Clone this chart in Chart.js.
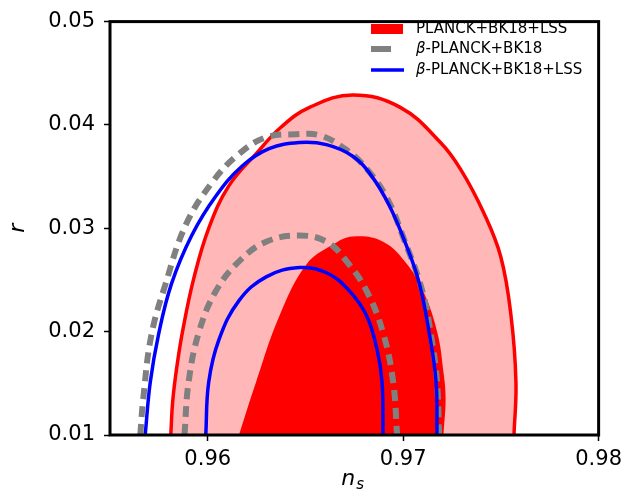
<!DOCTYPE html>
<html lang="en">
<head>
    <meta charset="UTF-8">
    <title>r vs n_s contours</title>
    <script src="https://cdn.jsdelivr.net/npm/chart.js@4.4.0/dist/chart.umd.min.js"></script>
    <style>
        body { margin: 0; background: #fff; }
    </style>
</head>
<body>
    <canvas id="myChart" width="628" height="502"></canvas>
    <script>
        // tick values
        var xTicks = [0.96, 0.97, 0.98];
        var yTicks = [0.01, 0.02, 0.03, 0.04, 0.05];

        var legendLabels = ['PLANCK+BK18+LSS', 'β-PLANCK+BK18', 'β-PLANCK+BK18+LSS'];

        // PLANCK+BK18+LSS, 95% contour
        var redOuterX = [0.95811, 0.95821, 0.95842, 0.95872, 0.95928, 0.96005, 0.96108, 0.96247, 0.96376, 0.96521, 0.96742, 0.96985, 0.97191, 0.97294, 0.97412, 0.97500, 0.97552, 0.97577, 0.97567];
        var redOuterY = [0.0100, 0.0133, 0.0166, 0.0201, 0.0251, 0.0300, 0.0341, 0.0372, 0.0398, 0.0417, 0.0429, 0.0417, 0.0383, 0.0357, 0.0315, 0.0272, 0.0215, 0.0151, 0.0100];
        // PLANCK+BK18+LSS, 68% contour
        var redInnerX = [0.96160, 0.96247, 0.96366, 0.96505, 0.96639, 0.96742, 0.96897, 0.97021, 0.97103, 0.97175, 0.97206, 0.97217, 0.97206];
        var redInnerY = [0.0100, 0.0151, 0.0215, 0.0265, 0.0284, 0.0292, 0.0287, 0.0265, 0.0239, 0.0199, 0.0161, 0.0135, 0.0100];

        // beta-PLANCK+BK18
        var grayOuterX = [0.95655, 0.95670, 0.95711, 0.95784, 0.95887, 0.96021, 0.96160, 0.96299, 0.96454, 0.96572, 0.96709, 0.96816, 0.96918, 0.97005, 0.97097, 0.97148, 0.97173, 0.97184];
        var grayOuterY = [0.0100, 0.0135, 0.0196, 0.0246, 0.0303, 0.0344, 0.0372, 0.0388, 0.0391, 0.0390, 0.0376, 0.0357, 0.0329, 0.0289, 0.0240, 0.0190, 0.0152, 0.0100];
        var grayInnerX = [0.95881, 0.95902, 0.95954, 0.96041, 0.96160, 0.96299, 0.96469, 0.96608, 0.96711, 0.96814, 0.96897, 0.96949, 0.96969];
        var grayInnerY = [0.0100, 0.0151, 0.0199, 0.0239, 0.0268, 0.0287, 0.0293, 0.0287, 0.0268, 0.0239, 0.0199, 0.0151, 0.0100];

        // beta-PLANCK+BK18+LSS
        var blueOuterX = [0.95680, 0.95706, 0.95747, 0.95814, 0.95918, 0.96041, 0.96175, 0.96314, 0.96469, 0.96607, 0.96740, 0.96837, 0.96929, 0.97015, 0.97082, 0.97133, 0.97168, 0.97173];
        var blueOuterY = [0.0100, 0.0151, 0.0196, 0.0246, 0.0293, 0.0331, 0.0360, 0.0377, 0.0383, 0.0381, 0.0370, 0.0351, 0.0322, 0.0284, 0.0247, 0.0199, 0.0152, 0.0100];
        var blueInnerX = [0.95990, 0.96005, 0.96057, 0.96160, 0.96299, 0.96469, 0.96608, 0.96727, 0.96814, 0.96866, 0.96892, 0.96897];
        var blueInnerY = [0.0100, 0.0151, 0.0192, 0.0230, 0.0253, 0.0262, 0.0257, 0.0239, 0.0215, 0.0183, 0.0151, 0.0100];

        var FONT = '"DejaVu Sans", sans-serif';

        function pts(xs, ys) {
            return xs.map(function (x, i) { return { x: x, y: ys[i] }; });
        }

        function drawRich(ctx, text, x, y, size) {
            // leading beta in italics, like mathtext
            var parts = text.charAt(0) === 'β' ? [['β', true], [text.slice(1), false]] : [[text, false]];
            parts.forEach(function (p) {
                ctx.font = (p[1] ? 'italic ' : '') + size + 'px ' + FONT;
                ctx.fillText(p[0], x, y);
                x += ctx.measureText(p[0]).width;
            });
        }

        var framePlugin = {
            id: 'frame',
            afterDraw: function (chart) {
                var ctx = chart.ctx, a = chart.chartArea;
                ctx.save();
                ctx.strokeStyle = '#000';
                ctx.lineWidth = 3;
                ctx.strokeRect(a.left, a.top, a.right - a.left, a.bottom - a.top);

                // legend
                var lx = 371, rows = [29, 49, 70];
                ctx.fillStyle = 'rgb(255,0,0)';
                ctx.fillRect(lx, rows[0] - 5, 32, 10);
                ctx.strokeStyle = 'rgb(128,128,128)';
                ctx.lineWidth = 6;
                ctx.beginPath(); ctx.moveTo(lx, rows[1]); ctx.lineTo(lx + 20, rows[1]); ctx.stroke();
                ctx.strokeStyle = 'rgb(0,0,255)';
                ctx.lineWidth = 3.5;
                ctx.beginPath(); ctx.moveTo(lx, rows[2]); ctx.lineTo(lx + 33, rows[2]); ctx.stroke();
                ctx.fillStyle = '#000';
                ctx.textBaseline = 'middle';
                ctx.textAlign = 'left';
                legendLabels.forEach(function (t, i) { drawRich(ctx, t, 416, rows[i], 15); });

                // x axis title n_s
                ctx.textBaseline = 'alphabetic';
                ctx.font = 'italic 22px ' + FONT;
                var cx = (a.left + a.right) / 2;
                var wn = ctx.measureText('n').width;
                ctx.fillText('n', cx - 13, 485);
                ctx.font = 'italic 15px ' + FONT;
                ctx.fillText('s', cx - 13 + wn + 1, 489);
                ctx.restore();
            }
        };

        var ctx = document.getElementById('myChart').getContext('2d');
        var myChart = new Chart(ctx, {
            type: 'line',
            data: {
                datasets: [
                    { label: legendLabels[0], data: pts(redOuterX, redOuterY), borderColor: 'rgb(255,0,0)', borderWidth: 3.5, backgroundColor: 'rgb(255,183,183)', fill: 'shape', order: 6 },
                    { label: legendLabels[0], data: pts(redInnerX, redInnerY), borderColor: 'rgb(255,0,0)', borderWidth: 0, backgroundColor: 'rgb(255,0,0)', fill: 'shape', order: 5 },
                    { label: legendLabels[1], data: pts(grayOuterX, grayOuterY), borderColor: 'rgb(128,128,128)', borderWidth: 6, borderDash: [11, 7], fill: false, order: 4 },
                    { label: legendLabels[1], data: pts(grayInnerX, grayInnerY), borderColor: 'rgb(128,128,128)', borderWidth: 6, borderDash: [11, 7], fill: false, order: 3 },
                    { label: legendLabels[2], data: pts(blueOuterX, blueOuterY), borderColor: 'rgb(0,0,255)', borderWidth: 3.5, fill: false, order: 2 },
                    { label: legendLabels[2], data: pts(blueInnerX, blueInnerY), borderColor: 'rgb(0,0,255)', borderWidth: 3.5, fill: false, order: 1 }
                ]
            },
            options: {
                responsive: false,
                animation: false,
                layout: { padding: { top: 12, right: 28, left: 0, bottom: 0 } },
                elements: { point: { radius: 0 }, line: { tension: 0.4 } },
                plugins: {
                    legend: { display: false },
                    tooltip: { enabled: false }
                },
                scales: {
                    x: {
                        type: 'linear',
                        min: 0.955,
                        max: 0.98,
                        afterBuildTicks: function (s) { s.ticks = xTicks.map(function (v) { return { value: v }; }); },
                        afterFit: function (s) { s.height = 67; },
                        grid: { drawOnChartArea: false, drawTicks: true, tickLength: 6, tickColor: '#000', tickWidth: 1.5 },
                        border: { display: false },
                        ticks: {
                            color: '#000',
                            padding: 6,
                            maxRotation: 0,
                            font: { family: FONT, size: 21 },
                            callback: function (v) { return v.toFixed(2); }
                        }
                    },
                    y: {
                        type: 'linear',
                        min: 0.01,
                        max: 0.05,
                        afterBuildTicks: function (s) { s.ticks = yTicks.map(function (v) { return { value: v }; }); },
                        afterFit: function (s) { s.width = 110; },
                        grid: { drawOnChartArea: false, drawTicks: true, tickLength: 6, tickColor: '#000', tickWidth: 1.5 },
                        border: { display: false },
                        title: { display: true, text: 'r', color: '#000', font: { family: FONT, size: 22, style: 'italic' }, padding: { top: 5, bottom: 0 } },
                        ticks: {
                            color: '#000',
                            padding: 9,
                            font: { family: FONT, size: 21 },
                            callback: function (v) { return v.toFixed(2); }
                        }
                    }
                }
            },
            plugins: [framePlugin]
        });
    </script>
</body>
</html>
